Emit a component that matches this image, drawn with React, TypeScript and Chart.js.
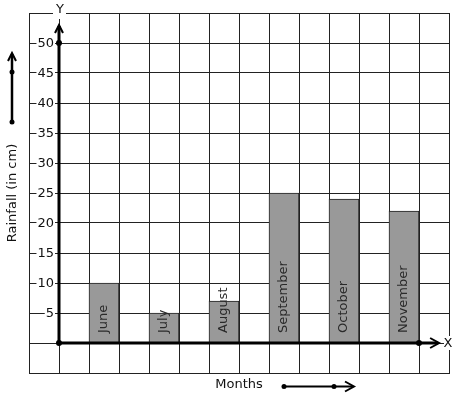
import React, { useEffect, useRef } from "react";
import { Chart, registerables } from "chart.js";

Chart.register(...registerables);

const MONTHS = ["June", "July", "August", "September", "October", "November"];
const RAINFALL = [10, 5, 7, 25, 24, 22];
const BAR_COLUMNS = [2.5, 4.5, 6.5, 8.5, 10.5, 12.5];
const Y_TICK_LABELS = [5, 10, 15, 20, 25, 30, 35, 40, 45, 50];
const Y_AXIS_AT = 1;
const Y_AXIS_TIP = 53;
const Y_AXIS_DOT = 50;
const X_AXIS_TIP = 13.67;
const X_AXIS_DOT = 13;

const FONT = '13px "DejaVu Sans"';
const INK = "#111";

function dot(ctx: CanvasRenderingContext2D, x: number, y: number, r = 2.6) {
  ctx.beginPath();
  ctx.arc(x, y, r, 0, Math.PI * 2);
  ctx.fill();
}

function chevronUp(ctx: CanvasRenderingContext2D, x: number, y: number) {
  ctx.beginPath();
  ctx.moveTo(x - 4, y + 8);
  ctx.lineTo(x, y);
  ctx.lineTo(x + 4, y + 8);
  ctx.stroke();
}

function chevronRight(ctx: CanvasRenderingContext2D, x: number, y: number) {
  ctx.beginPath();
  ctx.moveTo(x - 9, y - 5);
  ctx.lineTo(x, y);
  ctx.lineTo(x - 9, y + 5);
  ctx.stroke();
}

const decorations = {
  id: "decorations",
  afterDatasetsDraw(chart: any) {
    const ctx: CanvasRenderingContext2D = chart.ctx;
    const xs = chart.scales.x;
    const ys = chart.scales.y;
    const area = chart.chartArea;
    ctx.save();

    // bar labels
    ctx.fillStyle = "#2a2a2a";
    ctx.font = FONT;
    ctx.textAlign = "left";
    ctx.textBaseline = "middle";
    MONTHS.forEach((m, i) => {
      const cx = xs.getPixelForValue(BAR_COLUMNS[i]);
      const by = ys.getPixelForValue(0) - 10;
      ctx.save();
      ctx.translate(cx, by);
      ctx.rotate(-Math.PI / 2);
      ctx.fillText(m, 0, 0);
      ctx.restore();
    });

    // y tick labels with white background
    const ax = xs.getPixelForValue(Y_AXIS_AT);
    ctx.textAlign = "right";
    Y_TICK_LABELS.forEach((v) => {
      const y = ys.getPixelForValue(v);
      const t = String(v);
      const w = ctx.measureText(t).width;
      const rx = ax - 5;
      ctx.fillStyle = "#fff";
      ctx.fillRect(rx - w - 1, y - 6, w + 2, 12);
      ctx.fillStyle = INK;
      ctx.fillText(t, rx, y + 0.5);
    });

    // axes
    const oy = ys.getPixelForValue(0);
    ctx.strokeStyle = "#000";
    ctx.fillStyle = "#000";
    ctx.lineWidth = 3;
    ctx.beginPath();
    ctx.moveTo(ax, oy);
    ctx.lineTo(ax, ys.getPixelForValue(Y_AXIS_TIP) + 1);
    ctx.stroke();
    ctx.beginPath();
    ctx.moveTo(ax, oy);
    ctx.lineTo(xs.getPixelForValue(X_AXIS_TIP) - 1, oy);
    ctx.stroke();
    ctx.lineWidth = 2;
    chevronUp(ctx, ax, ys.getPixelForValue(Y_AXIS_TIP));
    chevronRight(ctx, xs.getPixelForValue(X_AXIS_TIP), oy);
    dot(ctx, ax, oy, 3);
    dot(ctx, ax, ys.getPixelForValue(Y_AXIS_DOT), 3);
    dot(ctx, xs.getPixelForValue(X_AXIS_DOT), oy, 3);

    // axis letters
    ctx.font = FONT;
    ctx.textAlign = "center";
    ctx.textBaseline = "middle";
    ctx.fillStyle = "#fff";
    ctx.fillRect(ax - 6, area.top - 8, 13, 14);
    ctx.fillRect(area.right - 5, oy - 7, 12, 14);
    ctx.fillStyle = INK;
    ctx.fillText("Y", ax + 1, area.top - 3);
    ctx.fillText("X", area.right - 1, oy + 0.5);

    // axis titles
    ctx.fillText("Months", (area.left + area.right) / 2, area.bottom + 12);
    ctx.save();
    ctx.translate(12.5, (area.top + area.bottom) / 2);
    ctx.rotate(-Math.PI / 2);
    ctx.fillText("Rainfall (in cm)", 0, 0);
    ctx.restore();

    // decorative arrows
    ctx.strokeStyle = "#000";
    ctx.fillStyle = "#000";
    ctx.lineWidth = 2.5;
    const lx = 12;
    ctx.beginPath();
    ctx.moveTo(lx, 122);
    ctx.lineTo(lx, 54);
    ctx.stroke();
    ctx.lineWidth = 2;
    chevronUp(ctx, lx, 53);
    dot(ctx, lx, 72, 2.5);
    dot(ctx, lx, 122, 2.5);

    const byy = 386.5;
    ctx.lineWidth = 2;
    ctx.beginPath();
    ctx.moveTo(284, byy);
    ctx.lineTo(353, byy);
    ctx.stroke();
    chevronRight(ctx, 354, byy);
    dot(ctx, 284, byy, 2.5);
    dot(ctx, 334, byy, 2.5);

    ctx.restore();
  },
};

export default function App() {
  const ref = useRef<HTMLCanvasElement | null>(null);
  useEffect(() => {
    if (!ref.current) return;
    const chart = new Chart(ref.current, {
      type: "bar",
      data: {
        datasets: [
          {
            data: MONTHS.map((_, i) => ({ x: BAR_COLUMNS[i], y: RAINFALL[i] })),
            backgroundColor: "#999999",
            borderColor: "#222222",
            borderWidth: 1,
            categoryPercentage: 1,
            barPercentage: 1,
          },
        ],
      },
      options: {
        animation: false,
        responsive: false,
        devicePixelRatio: 1,
        layout: { padding: { left: 29, top: 13, right: 8, bottom: 26 } },
        plugins: { legend: { display: false }, tooltip: { enabled: false } },
        scales: {
          x: {
            type: "linear",
            min: 0,
            max: 14,
            offset: false,
            ticks: { display: false, stepSize: 1 },
            grid: { color: "#222", lineWidth: 1, drawTicks: false, offset: false },
            border: { color: "#222", width: 1 },
          },
          y: {
            type: "linear",
            min: -5,
            max: 55,
            ticks: { display: false, stepSize: 5 },
            grid: { color: "#222", lineWidth: 1, drawTicks: false },
            border: { color: "#222", width: 1 },
          },
        },
      },
      plugins: [decorations],
    });
    return () => chart.destroy();
  }, []);
  return (
    <div style={{ position: "absolute", left: 0, top: 0, width: 457, height: 399, background: "#fff" }}>
      <canvas ref={ref} width={457} height={399} />
    </div>
  );
}
